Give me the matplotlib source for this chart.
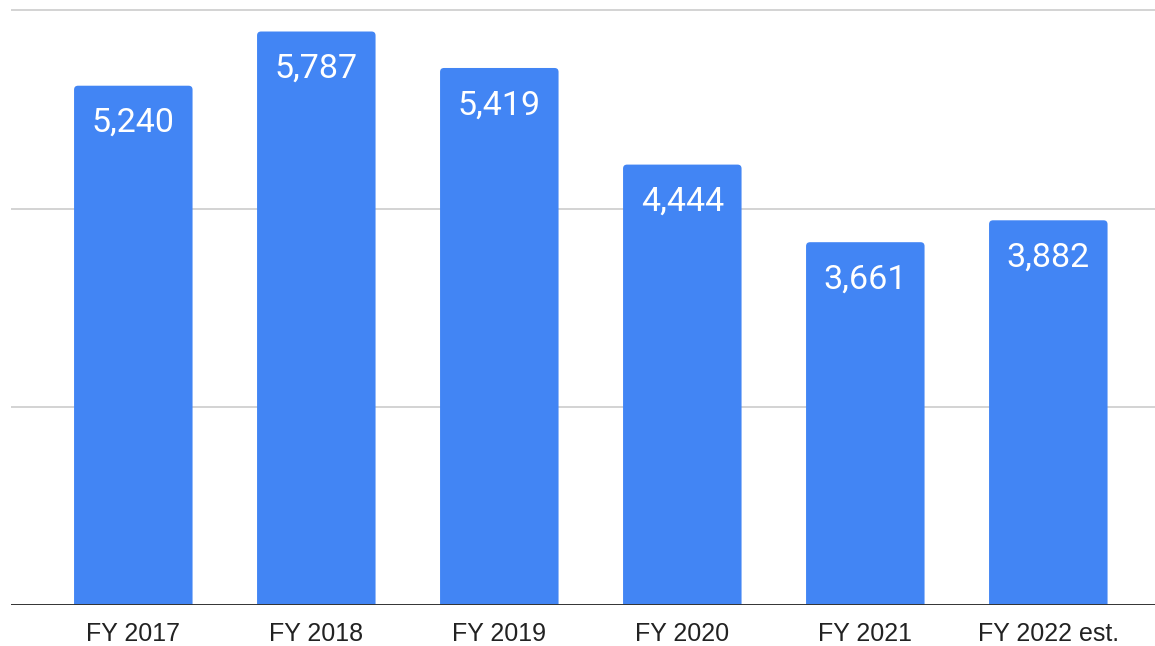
import matplotlib
matplotlib.use("Agg")
import matplotlib.pyplot as plt
from matplotlib.patches import FancyBboxPatch

categories = ["FY 2017", "FY 2018", "FY 2019", "FY 2020", "FY 2021", "FY 2022 est."]
values = [5240, 5787, 5419, 4444, 3661, 3882]
gridlines = [2000, 4000, 6000]

BAR_COLOR = "#4285F4"
W, H, DPI = 1155, 646, 100

fig = plt.figure(figsize=(W / DPI, H / DPI), dpi=DPI)
fig.patch.set_facecolor("white")

# axes in pixel terms: left edge at 11px, baseline at 605px from top
step_px = 183.0
left_px = 11.0
first_center_px = 133.3
x_lo = -(first_center_px - left_px) / step_px
x_hi = len(categories) - 1 - x_lo
axes_w_px = (x_hi - x_lo) * step_px
y_top = 6100
px_per_unit = 0.0991
axes_h_px = y_top * px_per_unit
bottom_px = H - 605

ax = fig.add_axes([left_px / W, bottom_px / H, axes_w_px / W, axes_h_px / H])
ax.set_xlim(x_lo, x_hi)
ax.set_ylim(0, y_top)

for g in gridlines:
    ax.axhline(g, color="#cccccc", lw=1.2, zorder=1)

bar_w = 118.5 / step_px
r_x = 4.0 / step_px
aspect = (1.0 / px_per_unit) / (1.0 / step_px)
for i, v in enumerate(values):
    patch = FancyBboxPatch(
        (i - bar_w / 2 + r_x, -200 + r_x * aspect),
        bar_w - 2 * r_x, v + 200 - 2 * r_x * aspect,
        boxstyle=f"round,pad={r_x},rounding_size={r_x}",
        mutation_aspect=aspect,
        facecolor=BAR_COLOR, edgecolor="none", zorder=2,
    )
    patch.set_clip_on(True)
    ax.add_patch(patch)
    ax.text(i, v - 215, f"{v:,}", ha="center", va="top", color="white",
            fontsize=24.5, family="Roboto", zorder=3)

ax.axhline(0, color="#333333", lw=1.4, zorder=4)

for s in ["top", "right", "left", "bottom"]:
    ax.spines[s].set_visible(False)
ax.set_yticks([])
ax.set_xticks(range(len(categories)))
ax.set_xticklabels(categories, family="Liberation Sans", fontsize=18, color="#222222")
ax.tick_params(axis="x", length=0, pad=12)

fig.savefig("out.png", dpi=DPI, facecolor="white")
